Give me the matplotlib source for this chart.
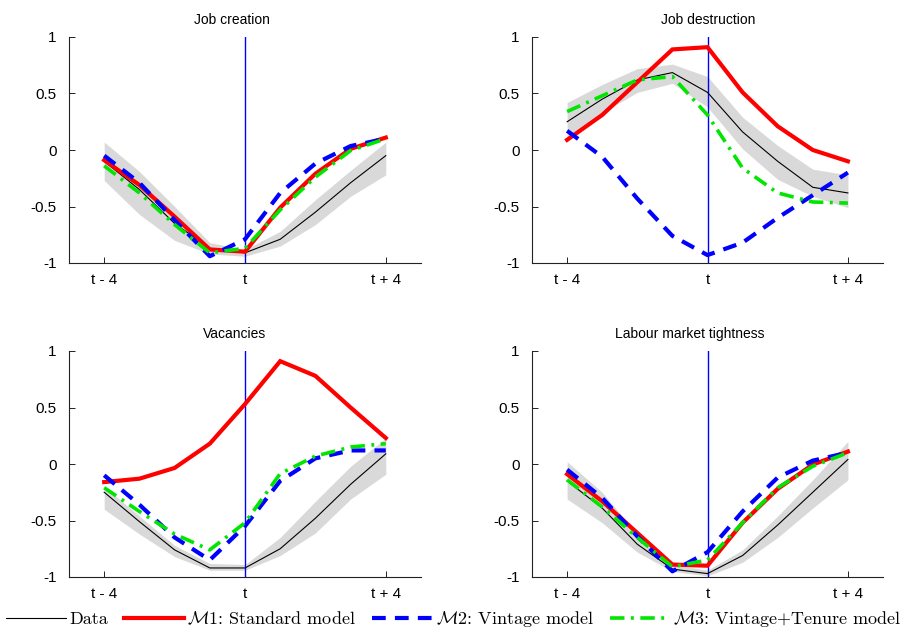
import matplotlib
matplotlib.use("Agg")
import matplotlib.pyplot as plt
from matplotlib.lines import Line2D
import numpy as np

quarters = [-4, -3, -2, -1, 0, 1, 2, 3, 4]
xtick_pos = [-4, 0, 4]
xtick_labels = ["t - 4", "t", "t + 4"]
ytick_pos = [-1, -0.5, 0, 0.5, 1]
ytick_labels = ["-1", "-0.5", "0", "0.5", "1"]
titles = ["Job creation", "Job destruction", "Vacancies", "Labour market tightness"]

# Job creation
jc_data = [-0.10, -0.35, -0.65, -0.87, -0.91, -0.79, -0.55, -0.29, -0.05]
jc_lo = [-0.27, -0.57, -0.80, -0.92, -0.94, -0.85, -0.66, -0.41, -0.22]
jc_hi = [0.07, -0.19, -0.50, -0.82, -0.88, -0.72, -0.44, -0.18, 0.07]
jc_m1 = [-0.09, -0.31, -0.59, -0.88, -0.90, -0.51, -0.21, 0.01, 0.11]
jc_m2 = [-0.05, -0.29, -0.62, -0.94, -0.79, -0.38, -0.12, 0.035, 0.10]
jc_m3 = [-0.14, -0.38, -0.66, -0.91, -0.87, -0.53, -0.24, -0.005, 0.10]

# Job destruction
jd_data = [0.25, 0.45, 0.62, 0.685, 0.51, 0.16, -0.10, -0.33, -0.38]
jd_lo = [0.12, 0.33, 0.51, 0.59, 0.38, 0.01, -0.26, -0.41, -0.51]
jd_hi = [0.42, 0.58, 0.72, 0.76, 0.65, 0.29, 0.04, -0.17, -0.22]
jd_m1 = [0.09, 0.31, 0.60, 0.89, 0.91, 0.51, 0.21, 0.0, -0.10]
jd_m2 = [0.17, -0.06, -0.43, -0.76, -0.93, -0.82, -0.60, -0.40, -0.20]
jd_m3 = [0.34, 0.48, 0.62, 0.65, 0.31, -0.16, -0.38, -0.46, -0.47]

# Vacancies
va_data = [-0.25, -0.51, -0.76, -0.92, -0.92, -0.75, -0.48, -0.18, 0.09]
va_lo = [-0.40, -0.62, -0.82, -0.94, -0.94, -0.81, -0.61, -0.31, -0.09]
va_hi = [-0.20, -0.46, -0.72, -0.88, -0.89, -0.65, -0.33, -0.02, 0.23]
va_m1 = [-0.16, -0.13, -0.035, 0.18, 0.53, 0.91, 0.78, 0.50, 0.23]
va_m2 = [-0.10, -0.36, -0.65, -0.85, -0.55, -0.15, 0.05, 0.12, 0.12]
va_m3 = [-0.21, -0.42, -0.62, -0.76, -0.52, -0.085, 0.07, 0.15, 0.18]

# Labour market tightness
lt_data = [-0.15, -0.39, -0.71, -0.93, -0.97, -0.81, -0.54, -0.25, 0.04]
lt_lo = [-0.31, -0.52, -0.78, -0.95, -0.99, -0.87, -0.65, -0.39, -0.14]
lt_hi = [0.02, -0.25, -0.62, -0.89, -0.94, -0.76, -0.46, -0.14, 0.20]
lt_m1 = [-0.09, -0.33, -0.61, -0.89, -0.90, -0.52, -0.22, -0.005, 0.11]
lt_m2 = [-0.05, -0.30, -0.64, -0.95, -0.78, -0.42, -0.12, 0.03, 0.10]
lt_m3 = [-0.14, -0.38, -0.65, -0.91, -0.85, -0.52, -0.21, -0.02, 0.10]

panels = [
    (jc_data, jc_lo, jc_hi, jc_m1, jc_m2, jc_m3),
    (jd_data, jd_lo, jd_hi, jd_m1, jd_m2, jd_m3),
    (va_data, va_lo, va_hi, va_m1, va_m2, va_m3),
    (lt_data, lt_lo, lt_hi, lt_m1, lt_m2, lt_m3),
]

legend_labels = ["Data", r"$\mathcal{M}1$: Standard model",
                 r"$\mathcal{M}2$: Vintage model", r"$\mathcal{M}3$: Vintage+Tenure model"]

plt.rcParams["mathtext.fontset"] = "cm"
plt.rcParams["axes.formatter.use_mathtext"] = True

W, H = 904, 630
fig = plt.figure(figsize=(W / 100, H / 100), dpi=100)

# axes rectangles in pixels: left, top, right, bottom
rects = [(69, 37, 421, 263), (532, 37, 883, 263), (69, 351, 421, 577), (532, 351, 883, 577)]
# title centres (pixels) as placed in the reference
title_xy = [(232, 20), (708, 20), (235, 334), (690, 334)]

sans = ["Liberation Sans", "DejaVu Sans"]

for i, (rect, data, title) in enumerate(zip(rects, panels, titles)):
    l, t, r, b = rect
    ax = fig.add_axes([l / W, 1 - b / H, (r - l) / W, (b - t) / H])
    d, lo, hi, m1, m2, m3 = data
    ax.fill_between(quarters, lo, hi, color="#d9d9d9", lw=0, zorder=1)
    ax.axvline(0, color="#0000ff", lw=1.0, zorder=2)
    ax.plot(quarters, d, color="black", lw=0.8, zorder=3)
    ax.plot(quarters, m1, color="red", lw=3.0, zorder=4, solid_joinstyle="miter")
    ax.plot(quarters, m2, color="blue", lw=3.0, ls=(0, (3.3, 2.2)), zorder=5)
    ax.plot(quarters, m3, color="#00e600", lw=2.6, ls=(0, (4, 1.8, 0.8, 1.8)), zorder=6)
    ax.set_xlim(-5, 5)
    ax.set_ylim(-1, 1)
    ax.set_xticks(xtick_pos)
    ax.set_xticklabels(xtick_labels, family=sans)
    ax.set_yticks(ytick_pos)
    ax.set_yticklabels(ytick_labels, family=sans)
    for s in ["top", "right"]:
        ax.spines[s].set_visible(False)
    for s in ["left", "bottom"]:
        ax.spines[s].set_linewidth(0.8)
        ax.spines[s].set_color("#222222")
    ax.tick_params(direction="in", length=4, width=0.7, labelsize=11, pad=7,
                   colors="#222222", labelcolor="black")
    ax.tick_params(axis="y", pad=9)
    tx, ty = title_xy[i]
    fig.text(tx / W, 1 - ty / H, title, fontsize=10, family=sans, ha="center", va="center")

handles = [
    Line2D([], [], color="black", lw=0.8),
    Line2D([], [], color="red", lw=3.0),
    Line2D([], [], color="blue", lw=3.0, ls=(0, (3.3, 2.2))),
    Line2D([], [], color="#00e600", lw=2.6, ls=(0, (4, 1.8, 0.8, 1.8))),
]
fig.legend(handles, legend_labels, loc="center", bbox_to_anchor=(0.502, 1 - 619 / H), ncol=4,
           frameon=False, prop={"family": "cmr10", "size": 13}, handlelength=3.3,
           columnspacing=0.9, handletextpad=0.2, borderpad=0, borderaxespad=0)

fig.savefig("out.png", dpi=100)
